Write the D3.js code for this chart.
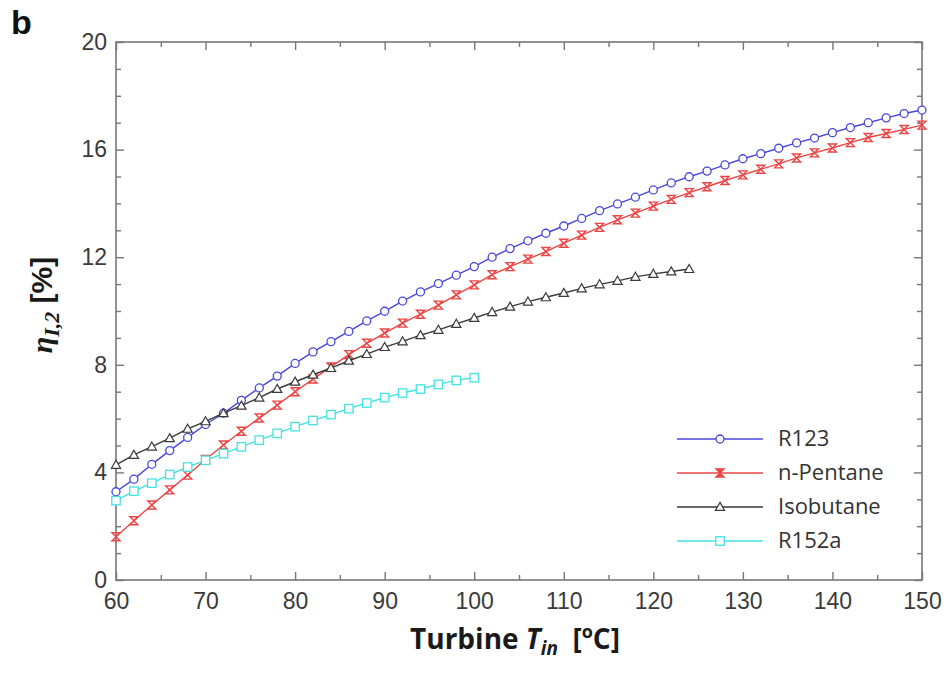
<!DOCTYPE html>
<html><head><meta charset="utf-8">
<script src="https://cdn.jsdelivr.net/npm/d3@7"></script>
<style>body{margin:0;background:#fff}</style>
</head><body>
<svg id="c" width="950" height="675"></svg>
<script>
// ---- data ----
const tempsLong = [60,62,64,66,68,70,72,74,76,78,80,82,84,86,88,90,92,94,96,98,100,102,104,106,108,110,112,114,116,118,120,122,124,126,128,130,132,134,136,138,140,142,144,146,148,150];
const tempsIso = [60,62,64,66,68,70,72,74,76,78,80,82,84,86,88,90,92,94,96,98,100,102,104,106,108,110,112,114,116,118,120,122,124];
const tempsR152a = [60,62,64,66,68,70,72,74,76,78,80,82,84,86,88,90,92,94,96,98,100];

const r123 = [3.28,3.75,4.3,4.81,5.3,5.78,6.2,6.68,7.14,7.58,8.05,8.48,8.86,9.24,9.63,9.99,10.37,10.71,11.02,11.33,11.65,12.0,12.32,12.61,12.89,13.16,13.44,13.73,13.98,14.23,14.5,14.76,14.99,15.2,15.43,15.66,15.85,16.05,16.25,16.43,16.63,16.82,17.0,17.18,17.34,17.47];
const nPentane = [1.61,2.2,2.79,3.35,3.9,4.48,5.02,5.53,6.02,6.5,7.0,7.47,7.92,8.38,8.8,9.18,9.55,9.88,10.22,10.6,10.97,11.35,11.65,11.93,12.21,12.52,12.82,13.11,13.39,13.64,13.9,14.15,14.4,14.62,14.85,15.06,15.27,15.47,15.69,15.88,16.06,16.26,16.45,16.6,16.75,16.91];
const isobutane = [4.28,4.65,4.96,5.27,5.62,5.9,6.2,6.48,6.78,7.1,7.37,7.63,7.88,8.15,8.4,8.66,8.87,9.1,9.3,9.52,9.74,9.96,10.16,10.35,10.51,10.67,10.84,10.99,11.12,11.27,11.38,11.47,11.56];
const r152a = [2.95,3.3,3.6,3.92,4.2,4.45,4.7,4.95,5.2,5.45,5.7,5.93,6.15,6.37,6.58,6.78,6.95,7.1,7.27,7.42,7.52];

const seriesNames = ["R123","n-Pentane","Isobutane","R152a"];
const xTicks = [60,70,80,90,100,110,120,130,140,150];
const yTicks = [0,4,8,12,16,20];

// ---- drawing ----
const svg = d3.select("#c");
const L=116, R=922, T=42, B=580;
const x = d3.scaleLinear().domain([60,150]).range([L,R]);
const y = d3.scaleLinear().domain([0,20]).range([B,T]);

const series = [
  {name:seriesNames[0], xs:tempsLong, ys:r123, color:"#4747dc", marker:"circle"},
  {name:seriesNames[1], xs:tempsLong, ys:nPentane, color:"#ee4444", marker:"hourglass"},
  {name:seriesNames[2], xs:tempsIso, ys:isobutane, color:"#3a3a3a", marker:"triangle"},
  {name:seriesNames[3], xs:tempsR152a, ys:r152a, color:"#45e2e2", marker:"square"}
];

const axisColor = "#777";
const tickFont = "'Liberation Sans', Arial, sans-serif";

// frame
svg.append("rect").attr("x",L).attr("y",T).attr("width",R-L).attr("height",B-T)
  .attr("fill","none").attr("stroke",axisColor).attr("stroke-width",1.6);

function styleAxis(g){
  g.select(".domain").remove();
  g.selectAll(".tick line").attr("stroke",axisColor).attr("stroke-width",1.4);
  g.selectAll(".tick text").attr("fill","#3a3a3a").style("font-family",tickFont).style("font-size","23px");
}
const xMinor = d3.range(65,150,10);
const yMinor = [1,2,3,5,6,7,9,10,11,13,14,15,17,18,19];

svg.append("g").attr("transform",`translate(0,${B})`)
  .call(d3.axisBottom(x).tickValues(xTicks).tickSize(-8).tickPadding(13).tickFormat(d3.format("d"))).call(styleAxis);
svg.append("g").attr("transform",`translate(0,${B})`)
  .call(d3.axisBottom(x).tickValues(xMinor).tickSize(-5).tickFormat("")).call(styleAxis);
svg.append("g").attr("transform",`translate(0,${T})`)
  .call(d3.axisTop(x).tickValues(xTicks).tickSize(-8).tickFormat("")).call(styleAxis);
svg.append("g").attr("transform",`translate(0,${T})`)
  .call(d3.axisTop(x).tickValues(xMinor).tickSize(-5).tickFormat("")).call(styleAxis);
svg.append("g").attr("transform",`translate(${L},0)`)
  .call(d3.axisLeft(y).tickValues(yTicks).tickSize(-8).tickPadding(9).tickFormat(d3.format("d"))).call(styleAxis);
svg.append("g").attr("transform",`translate(${L},0)`)
  .call(d3.axisLeft(y).tickValues(yMinor).tickSize(-5).tickFormat("")).call(styleAxis);
svg.append("g").attr("transform",`translate(${R},0)`)
  .call(d3.axisRight(y).tickValues(yTicks).tickSize(-8).tickFormat("")).call(styleAxis);
svg.append("g").attr("transform",`translate(${R},0)`)
  .call(d3.axisRight(y).tickValues(yMinor).tickSize(-5).tickFormat("")).call(styleAxis);

// markers
function drawMarker(g, type, cx, cy, color, filled){
  const fill = filled ? color : "#fff";
  if(type==="circle"){
    g.append("circle").attr("cx",cx).attr("cy",cy).attr("r",4)
      .attr("fill",fill).attr("stroke",color).attr("stroke-width",1.3);
  } else if(type==="square"){
    g.append("rect").attr("x",cx-4.2).attr("y",cy-4.2).attr("width",8.4).attr("height",8.4)
      .attr("fill",fill).attr("stroke",color).attr("stroke-width",1.3);
  } else if(type==="triangle"){
    const s=4.6;
    g.append("path").attr("d",`M${cx},${cy-s}L${cx+s},${cy+s*0.75}L${cx-s},${cy+s*0.75}Z`)
      .attr("fill",fill).attr("stroke",color).attr("stroke-width",1.2);
  } else if(type==="hourglass"){
    const s=4;
    g.append("path").attr("d",`M${cx-s},${cy-s}L${cx+s},${cy-s}L${cx-s},${cy+s}L${cx+s},${cy+s}Z`)
      .attr("fill",filled?color:"none").attr("stroke",color).attr("stroke-width",1.4);
  }
}

const line = d3.line().x(d=>x(d[0])).y(d=>y(d[1]));
series.forEach(s=>{
  const pts = s.xs.map((t,i)=>[t,s.ys[i]]);
  const g = svg.append("g");
  g.append("path").attr("d",line(pts)).attr("fill","none")
    .attr("stroke",s.color).attr("stroke-width",1.4);
  pts.forEach(p=>drawMarker(g,s.marker,x(p[0]),y(p[1]),s.color,false));
});

// legend
const legFont = "'Open Sans', sans-serif";
const lg = svg.append("g");
series.forEach((s,i)=>{
  const ly = 439 + i*34;
  lg.append("line").attr("x1",677).attr("x2",763).attr("y1",ly).attr("y2",ly)
    .attr("stroke",s.color).attr("stroke-width",1.6);
  drawMarker(lg,s.marker,720,ly,s.color,s.marker==="hourglass");
  lg.append("text").attr("x",778).attr("y",ly+7).text(s.name)
    .attr("fill","#333").style("font-family",legFont).style("font-size","22px");
});

// axis titles
const xt = svg.append("text").attr("x",515).attr("y",649).attr("text-anchor","middle")
  .attr("fill","#1a1a1a").style("font-family",legFont).style("font-weight","bold").style("font-size","28px");
xt.append("tspan").text("Turbine ");
xt.append("tspan").text("T").style("font-style","italic");
xt.append("tspan").text("in").style("font-style","italic").style("font-size","19px").attr("dy",6);
xt.append("tspan").text("\u00A0 [").attr("dy",-6);
xt.append("tspan").text("o").style("font-size","18px").attr("dy",-11);
xt.append("tspan").text("C]").attr("dy",11);

const yt = svg.append("text").attr("transform","translate(52,305) rotate(-90)").attr("text-anchor","middle")
  .attr("fill","#1a1a1a").style("font-weight","bold").style("font-size","30px");
yt.append("tspan").text("η").style("font-family","'Liberation Serif', serif").style("font-style","italic");
yt.append("tspan").text("I,2").style("font-family","'Liberation Serif', serif").style("font-style","italic").style("font-size","22px").attr("dy",7);
yt.append("tspan").text(" [%]").style("font-family","'Liberation Sans', sans-serif").attr("dy",-7);

// panel label
svg.append("text").attr("x",11).attr("y",34).text("b")
  .attr("fill","#111").style("font-family","'Liberation Sans', Arial, sans-serif").style("font-weight","bold").style("font-size","34px");
</script>
</body></html>
